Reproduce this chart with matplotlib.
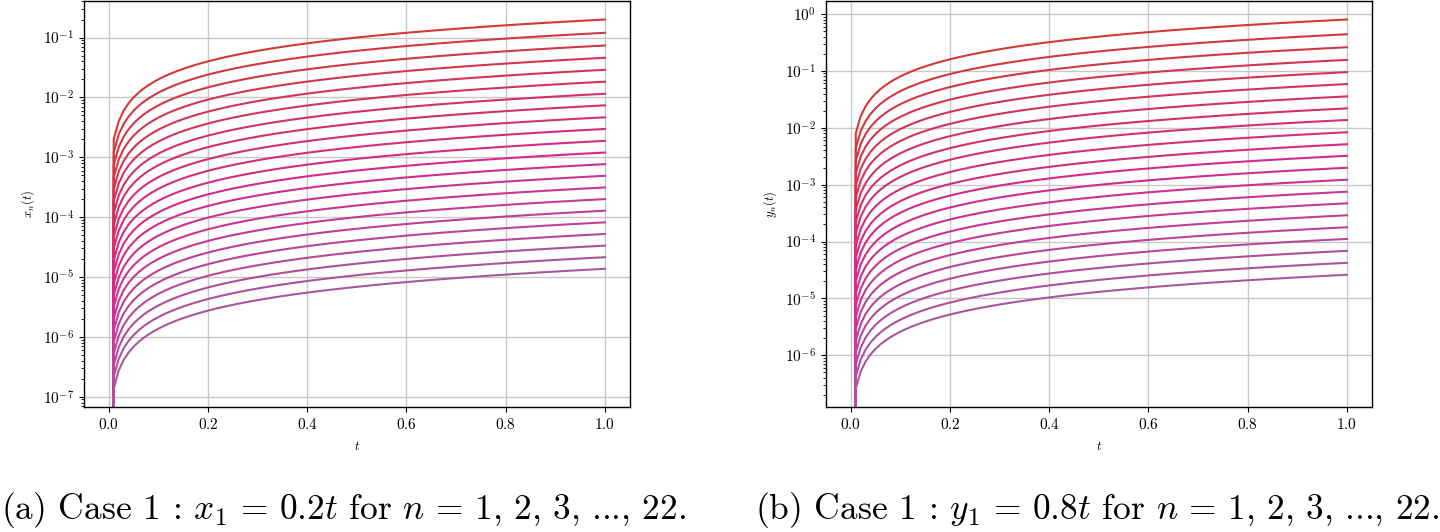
import numpy as np
import matplotlib
matplotlib.use("Agg")
import matplotlib.pyplot as plt
from matplotlib.colors import LinearSegmentedColormap

plt.rcParams["font.family"] = "serif"
plt.rcParams["font.serif"] = ["cmr10", "DejaVu Serif"]
plt.rcParams["mathtext.fontset"] = "cm"
plt.rcParams["axes.formatter.use_mathtext"] = True
plt.rcParams["axes.unicode_minus"] = False

# ── data: values of each curve at t = 1 ────────────────────────────────────
X_END = [0.200, 0.120, 0.0736, 0.0459, 0.0289, 0.0183, 0.0115, 0.00737,
         0.00465, 0.00297, 0.00188, 0.00120, 7.67e-4, 4.90e-4, 3.13e-4,
         2.00e-4, 1.28e-4, 8.18e-5, 5.23e-5, 3.34e-5, 2.14e-5, 1.37e-5]
Y_END = [0.800, 0.440, 0.260, 0.156, 0.0950, 0.0586, 0.0356, 0.0219,
         0.0137, 0.00833, 0.00513, 0.00321, 0.00198, 0.00122, 7.50e-4,
         4.69e-4, 2.89e-4, 1.78e-4, 1.11e-4, 6.85e-5, 4.22e-5, 2.60e-5]
T = np.linspace(0.0, 1.0, 101)

CAPTIONS = [r"(a) Case 1 : $x_1\,=\,0.2t$ for $n\,=\,1,\,2,\,3,\,$...$,\,22.$",
            r"(b) Case 1 : $y_1\,=\,0.8t$ for $n\,=\,1,\,2,\,3,\,$...$,\,22.$"]
CAP_X = [0.001, 0.9995]
CAP_HA = ["left", "right"]
YLABELS = [r"$x_n(t)$", r"$y_n(t)$"]

cmap = LinearSegmentedColormap.from_list(
    "redmag", [(0.0, "#d23a36"), (0.55, "#d42a8e"), (1.0, "#a8579f")])

fig = plt.figure(figsize=(14.4, 5.32), dpi=100)
axes = [fig.add_axes([0.0583, 0.235, 0.379, 0.763]),
        fig.add_axes([0.5736, 0.235, 0.379, 0.763])]

for ax, ends, ylab, cap, cx, ha in zip(axes, [X_END, Y_END], YLABELS,
                                       CAPTIONS, CAP_X, CAP_HA):
    n = len(ends)
    for i, c in enumerate(ends):
        ax.plot(T, c * T, color=cmap(i / (n - 1)), lw=1.5)
    ax.set_yscale("log")
    ax.grid(True, which="major", color="#c8c8c8", lw=1.0)
    ax.set_axisbelow(True)
    ax.set_xlabel(r"$t$", fontsize=9, labelpad=6)
    ax.set_ylabel(ylab, fontsize=9, labelpad=4)
    ax.tick_params(labelsize=11)
    for s in ax.spines.values():
        s.set_linewidth(1.0)
    fig.text(cx, 0.042, cap, ha=ha, va="center", fontsize=25.5)

fig.savefig("out.png", dpi=100, facecolor="white")
